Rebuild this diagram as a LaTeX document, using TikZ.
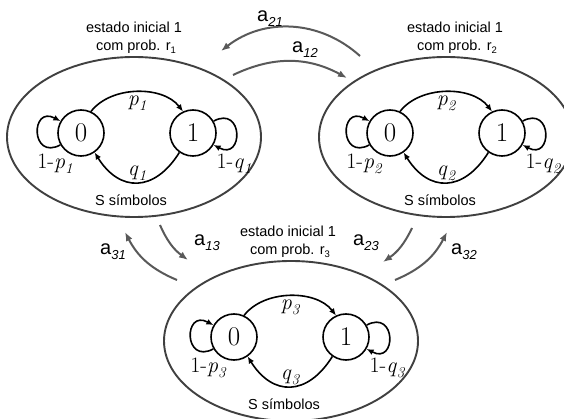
\documentclass[tikz,border=0pt]{standalone}
\usepackage{fontspec}
\setsansfont{Liberation Sans}
\usetikzlibrary{arrows.meta,shapes.geometric}
\newcommand{\isub}[1]{\raisebox{-0.22em}{\fontsize{15}{15}\selectfont\itshape #1}}
\newcommand{\asub}[1]{\raisebox{-0.25em}{\fontsize{13}{13}\selectfont\itshape #1}}
\newcommand{\rsub}[1]{\raisebox{-0.2em}{\fontsize{9.5}{9.5}\selectfont #1}}
\begin{document}
\begin{tikzpicture}[x=1pt,y=-1pt,
  state/.style={circle,draw,line width=1.6pt,minimum size=46pt,inner sep=0pt,font=\fontsize{27}{27}\selectfont},
  grp/.style={ellipse,draw=black!75,line width=1.9pt,minimum width=254pt,minimum height=160pt,inner sep=0pt},
  tr/.style={-{Latex[length=7pt,width=6pt]},line width=1.6pt},
  lk/.style={-{Latex[length=9pt,width=7pt]},draw=black!65,line width=2pt},
  info/.style={font=\sffamily\fontsize{14.5}{14.5}\selectfont,inner sep=0pt},
  lab/.style={font=\fontsize{22}{22}\selectfont,inner sep=0pt},
  alab/.style={font=\sffamily\fontsize{20}{20}\selectfont,inner sep=0pt}]
\useasboundingbox (0,0) rectangle (564,419);
\foreach \i/\cx/\cy/\tx/\ex in {1/137/133/134/134, 2/446/133/455/446, 3/290/337/288/291} {
  \node[grp] (E\i) at (\ex,\cy+4) {};
  \node[state] (z\i) at (\cx-56,\cy) {0};
  \node[state] (o\i) at (\cx+56,\cy) {1};
  \node[info] (ei\i) at (\tx,\cy-106) {estado inicial 1};
  \node[info] (cp\i) at (\tx+2,\cy-86) {com prob. r\rsub{\i}};
  \node[info] (ss\i) at (\cx-6,\cy+67) {S símbolos};
  \draw[tr] (z\i.65) .. controls +(20,-26) and +(-20,-26) .. (o\i.115);
  \draw[tr] (o\i.235) .. controls +(-25,40) and +(25,40) .. (z\i.305);
  \draw[tr] (z\i.210) .. controls +(-30,16) and +(-30,-16) .. (z\i.150);
  \draw[tr] (o\i.30) .. controls +(30,-16) and +(30,16) .. (o\i.330);
  \node[lab] (p\i) at (\cx,\cy-30) {\textit{p}\isub{\i}};
  \node[lab] (q\i) at (\cx,\cy+40) {\textit{q}\isub{\i}};
  \node[lab] (lp\i) at (\cx-82,\cy+31) {1-\textit{p}\isub{\i}};
  \node[lab] (lq\i) at (\cx+97,\cy+31) {1-\textit{q}\isub{\i}};
}
\coordinate (s21) at (360,56);  \coordinate (t21) at (221,51);
\coordinate (s12) at (233,75);  \coordinate (t12) at (347,78);
\coordinate (s13) at (160,225); \coordinate (t13) at (188,260);
\coordinate (s31) at (177,280); \coordinate (t31) at (125,232);
\coordinate (s23) at (412,228); \coordinate (t23) at (383,262);
\coordinate (s32) at (395,280); \coordinate (t32) at (447,232);
\draw[lk] (s21) to[bend right=40] (t21);
\draw[lk] (s12) to[bend left=27] (t12);
\draw[lk] (s13) to[bend right=15] (t13);
\draw[lk] (s31) to[bend left=20] (t31);
\draw[lk] (s23) to[bend left=15] (t23);
\draw[lk] (s32) to[bend right=20] (t32);
\node[alab] (l21) at (270,19) {a\asub{21}};
\node[alab] (l12) at (305,50) {a\asub{12}};
\node[alab] (l13) at (207,243) {a\asub{13}};
\node[alab] (l31) at (113,252) {a\asub{31}};
\node[alab] (l23) at (366,243) {a\asub{23}};
\node[alab] (l32) at (464,252) {a\asub{32}};
\end{tikzpicture}
\end{document}
